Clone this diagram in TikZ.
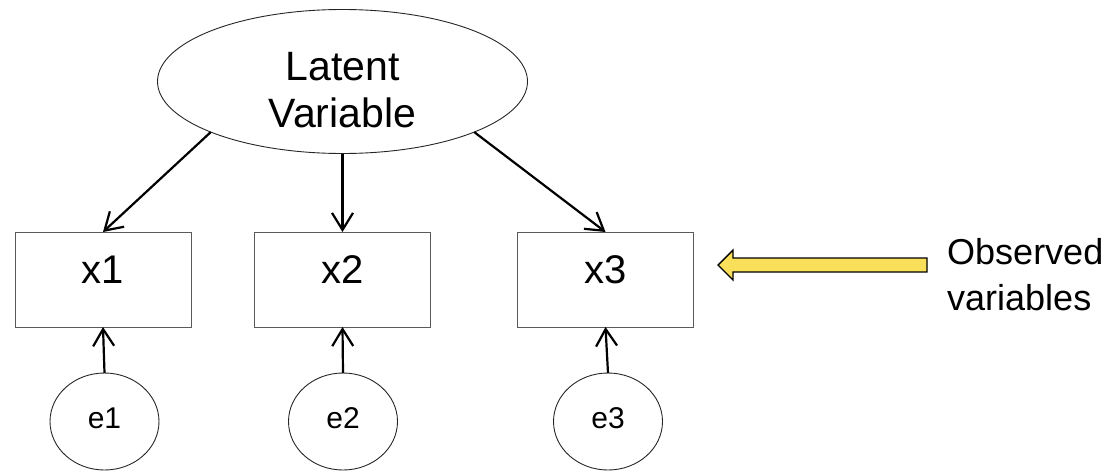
\documentclass[tikz,border=0pt]{standalone}
\usepackage{fontspec}
\setmainfont{Liberation Sans}
\usetikzlibrary{arrows.meta,shapes.geometric,calc}

\definecolor{boxline}{RGB}{90,90,90}
\definecolor{noteyellow}{RGB}{250,224,90}

\tikzset{
  latent/.style={ellipse, draw=black!85, line width=0.9pt, minimum width=370pt,
                 minimum height=144pt, inner sep=0pt, outer sep=0pt},
  obsbox/.style={rectangle, draw=boxline, line width=1pt, minimum width=176pt,
                 minimum height=95pt, inner sep=0pt, outer sep=0pt,
                 font=\fontsize{40}{46}\selectfont, text height=29pt, text depth=22pt},
  errnode/.style={ellipse, draw=black!85, line width=0.9pt, minimum width=109pt,
                  minimum height=97pt, inner sep=0pt, outer sep=0pt,
                  font=\fontsize{30}{36}\selectfont, text height=22pt, text depth=9pt},
  loading/.style={line width=2.2pt, -{Straight Barb[length=17pt,width=21pt]}},
  biglabel/.style={align=center, inner sep=0pt, font=\fontsize{41}{47}\selectfont},
  sidelabel/.style={align=left, inner sep=0pt, anchor=north west,
                    font=\fontsize{36}{46}\selectfont},
  blockarrow/.style={fill=noteyellow, draw=black, line width=1.4pt, line join=miter}
}

\begin{document}
\begin{tikzpicture}[x=1pt, y=-1pt]
  \useasboundingbox (0,0) rectangle (1115,471);

  % latent factor
  \node[latent] (L) at (342.5,81.5) {};
  \node[biglabel] (Ltext) at (342.5,90.5) {Latent\\Variable};

  % observed indicators
  \node[obsbox] (x1) at (103,279.5) {x1};
  \node[obsbox] (x2) at (342.5,279.5) {x2};
  \node[obsbox] (x3) at (605.5,279.5) {x3};

  % error terms
  \node[errnode] (e1) at (104.5,421.5) {e1};
  \node[errnode] (e2) at (343,421.5) {e2};
  \node[errnode] (e3) at (608,421.5) {e3};

  % loadings
  \draw[loading] (L.201) -- (x1.north);
  \draw[loading] (L.south) -- (x2.north);
  \draw[loading] (L.339) -- (x3.north);

  % errors to indicators
  \draw[loading] (e1.north) -- (x1.south);
  \draw[loading] (e2.north) -- (x2.south);
  \draw[loading] (e3.north) -- (x3.south);

  % side note with block arrow
  \node[sidelabel] (note) at (947,238) {Observed\\variables};
  \coordinate (tail) at (927,265);
  \draw[blockarrow] ($(tail)+(0,-7)$) -- (733,258) -- (733,250) -- (718,265)
        -- (733,280) -- (733,272) -- ($(tail)+(0,7)$) -- cycle;
\end{tikzpicture}
\end{document}
